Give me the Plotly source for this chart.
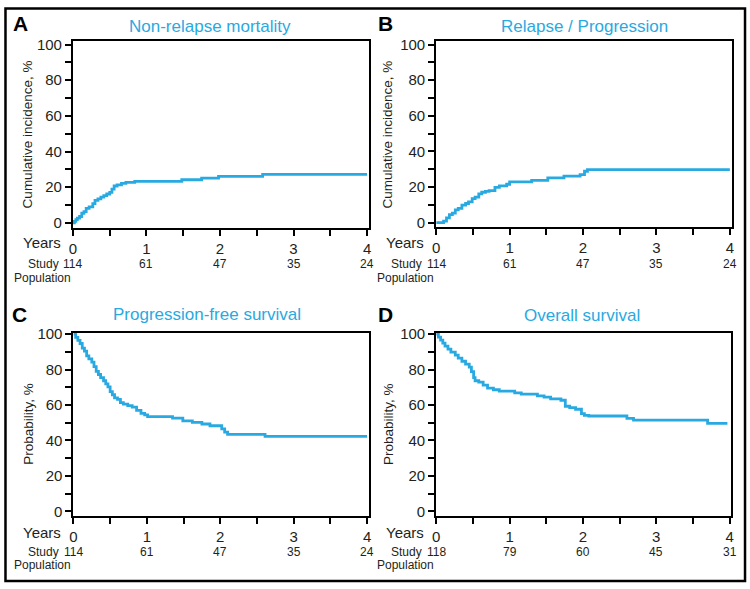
import plotly.graph_objects as go

W, H = 750, 589
BLUE = "#29a9e1"
INK = "#231f20"
FONT = "Liberation Sans"

# ---- data ----
# A: non-relapse mortality (cumulative incidence, %)
nrm_t = [0, 0.02, 0.04, 0.06, 0.09, 0.12, 0.15, 0.18, 0.22, 0.27, 0.30, 0.34, 0.38,
         0.42, 0.46, 0.50, 0.53, 0.56, 0.60, 0.66, 0.72, 0.84, 1.48, 1.75, 1.98, 2.58, 4.0]
nrm_v = [0, 0.9, 1.8, 2.7, 3.6, 5.4, 6.3, 8.1, 9.0, 10.8, 12.6, 13.5, 14.4,
         15.3, 16.2, 17.1, 18.9, 20.7, 21.3, 22.2, 22.7, 23.3, 24.2, 25.1, 26.1, 27.2, 27.2]

# B: relapse / progression (cumulative incidence, %)
rel_t = [0, 0.10, 0.14, 0.18, 0.22, 0.26, 0.30, 0.35, 0.40, 0.44, 0.49, 0.53, 0.58,
         0.62, 0.67, 0.72, 0.80, 0.86, 0.96, 1.0, 1.30, 1.52, 1.74, 1.96, 2.02, 2.06, 4.0]
rel_v = [0, 0.9, 2.7, 4.5, 5.4, 7.2, 8.1, 9.9, 10.8, 11.7, 13.5, 14.4, 16.2,
         17.1, 17.6, 18.0, 19.8, 20.7, 21.6, 22.9, 23.8, 25.2, 26.1, 27.0, 28.9, 29.8, 29.8]

# C: progression-free survival (probability, %)
pfs_t = [0, 0.03, 0.06, 0.09, 0.12, 0.15, 0.18, 0.21, 0.25, 0.28, 0.31, 0.34, 0.37,
         0.41, 0.44, 0.47, 0.50, 0.53, 0.56, 0.60, 0.64, 0.68, 0.74, 0.80, 0.86, 0.92,
         0.97, 1.01, 1.35, 1.49, 1.62, 1.75, 1.86, 2.02, 2.06, 2.10, 2.61, 4.0]
pfs_v = [100, 98.2, 96.5, 94.7, 92.1, 90.4, 87.7, 86.0, 84.2, 81.6, 79.0, 77.2, 75.4,
         73.7, 71.9, 70.2, 67.5, 65.8, 64.0, 63.2, 61.4, 60.5, 59.6, 58.8, 57.0, 55.3,
         54.4, 53.5, 52.6, 51.1, 50.2, 49.3, 48.3, 46.5, 44.7, 43.4, 42.3, 42.3]

# D: overall survival (probability, %)
os_t = [0, 0.03, 0.06, 0.09, 0.12, 0.16, 0.20, 0.26, 0.30, 0.35, 0.40, 0.45, 0.48,
        0.51, 0.53, 0.58, 0.64, 0.70, 0.78, 0.86, 1.07, 1.16, 1.38, 1.47, 1.56, 1.70,
        1.76, 1.82, 1.90, 1.98, 2.02, 2.08, 2.60, 2.69, 3.70, 3.97]
os_v = [100, 98.3, 96.6, 94.9, 93.2, 91.5, 89.8, 88.1, 86.4, 84.7, 83.1, 81.4, 78.8,
        75.4, 73.7, 72.9, 71.2, 69.5, 68.6, 67.8, 66.9, 66.1, 65.2, 64.4, 63.5, 62.7,
        59.3, 58.5, 57.6, 55.1, 54.2, 53.8, 52.5, 51.5, 49.6, 49.6]

risk_years = [0, 1, 2, 3, 4]
risk_abc = ["114", "61", "47", "35", "24"]
risk_d = ["118", "79", "60", "45", "31"]

panel_letters = ["A", "B", "C", "D"]
panel_titles = ["Non-relapse mortality", "Relapse / Progression",
                "Progression-free survival", "Overall survival"]
y_titles = ["Cumulative incidence, %", "Cumulative incidence, %",
            "Probability, %", "Probability, %"]

x_tickvals = [0, 0.5, 1, 1.5, 2, 2.5, 3, 3.5, 4]
x_ticktext = ["0", "", "1", "", "2", "", "3", "", "4"]
y_tickvals = [0, 10, 20, 30, 40, 50, 60, 70, 80, 90, 100]
y_ticktext = ["0", "", "20", "", "40", "", "60", "", "80", "", "100"]

# ---- panel geometry in pixels (left, right, top, bottom, y range, x max) ----
panels = [
    dict(l=69.5, r=368, t=35, b=225, yr=[-2.75, 101.8], xmax=4.027,
         title=(208, 20), letter=(17, 17), ytitle=(24, 130), years_y=240, risk_y=262, pop_y=276),
    dict(l=435.7, r=734.3, t=35, b=224, yr=[-2.3, 101.8], xmax=4.035,
         title=(585, 20), letter=(385, 17), ytitle=(387, 130), years_y=240, risk_y=262, pop_y=276),
    dict(l=70, r=368, t=331.7, b=518.3, yr=[-2.4, 100.9], xmax=4.027,
         title=(205, 313), letter=(16, 313), ytitle=(24, 425), years_y=535, risk_y=555, pop_y=569),
    dict(l=435.7, r=733.3, t=331.7, b=518.3, yr=[-2.4, 100.9], xmax=4.025,
         title=(583, 314), letter=(385, 313), ytitle=(387, 425), years_y=535, risk_y=555, pop_y=569),
]

series = [(nrm_t, nrm_v), (rel_t, rel_v), (pfs_t, pfs_v), (os_t, os_v)]
risks = [risk_abc, risk_abc, risk_abc, risk_d]


def py(px):
    return 1 - px / H


fig = go.Figure()
annotations = []
layout = {}

for i, (p, (t, v)) in enumerate(zip(panels, series)):
    n = "" if i == 0 else str(i + 1)
    fig.add_trace(go.Scatter(x=t, y=v, mode="lines", line_shape="hv",
                             line=dict(color=BLUE, width=2.8),
                             xaxis="x" + n, yaxis="y" + n, showlegend=False))
    axis_common = dict(showline=True, linecolor="black", linewidth=2, mirror=True,
                       ticks="outside", ticklen=6, tickwidth=1.5, tickcolor="black",
                       showgrid=False, zeroline=False, fixedrange=True,
                       tickfont=dict(family=FONT, size=15, color=INK))
    layout["xaxis" + n] = dict(axis_common, domain=[p["l"] / W, p["r"] / W],
                               range=[0, p["xmax"]], anchor="y" + n,
                               tickmode="array", tickvals=x_tickvals, ticktext=x_ticktext)
    layout["yaxis" + n] = dict(axis_common, domain=[py(p["b"]), py(p["t"])],
                               range=p["yr"], anchor="x" + n,
                               tickmode="array", tickvals=y_tickvals, ticktext=y_ticktext)

    annotations.append(dict(text=panel_titles[i], xref="paper", yref="paper",
                            x=p["title"][0] / W, y=py(p["title"][1]), showarrow=False,
                            xanchor="center", yanchor="middle",
                            font=dict(family=FONT, size=17, color=BLUE)))
    annotations.append(dict(text="<b>" + panel_letters[i] + "</b>", xref="paper", yref="paper",
                            x=p["letter"][0] / W, y=py(p["letter"][1]), showarrow=False,
                            xanchor="center", yanchor="middle",
                            font=dict(family=FONT, size=21, color="black")))
    annotations.append(dict(text=y_titles[i], xref="paper", yref="paper", textangle=-90,
                            x=p["ytitle"][0] / W, y=py(p["ytitle"][1]), showarrow=False,
                            xanchor="center", yanchor="middle",
                            font=dict(family=FONT, size=13.5, color=INK)))
    annotations.append(dict(text="Years", xref="x" + n, yref="paper", x=0, xshift=-10,
                            y=py(p["years_y"]), showarrow=False, xanchor="right", yanchor="middle",
                            font=dict(family=FONT, size=15, color=INK)))
    annotations.append(dict(text="Study", xref="x" + n, yref="paper", x=0, xshift=-12,
                            y=py(p["risk_y"]), showarrow=False, xanchor="right", yanchor="middle",
                            font=dict(family=FONT, size=12, color=INK)))
    annotations.append(dict(text="Population", xref="x" + n, yref="paper", x=0, xshift=0,
                            y=py(p["pop_y"]), showarrow=False, xanchor="right", yanchor="middle",
                            font=dict(family=FONT, size=12, color=INK)))
    for yr_, lab in zip(risk_years, risks[i]):
        annotations.append(dict(text=lab, xref="x" + n, yref="paper", x=yr_,
                                y=py(p["risk_y"]), showarrow=False, xanchor="center",
                                yanchor="middle", font=dict(family=FONT, size=12, color=INK)))

fig.update_layout(
    width=W, height=H, autosize=False,
    margin=dict(l=0, r=0, t=0, b=0, pad=0),
    paper_bgcolor="white", plot_bgcolor="white",
    annotations=annotations,
    shapes=[dict(type="rect", xref="paper", yref="paper",
                 x0=1.5 / W, x1=1 - 3 / W, y0=py(585), y1=py(1.5),
                 line=dict(color="black", width=2.5))],
    **layout,
)

# the page body has a default 8px margin; drop it so the figure sits at 0,0
fig.write_html("out.html", config={"displayModeBar": False},
               post_script="document.body.style.margin='0';")
